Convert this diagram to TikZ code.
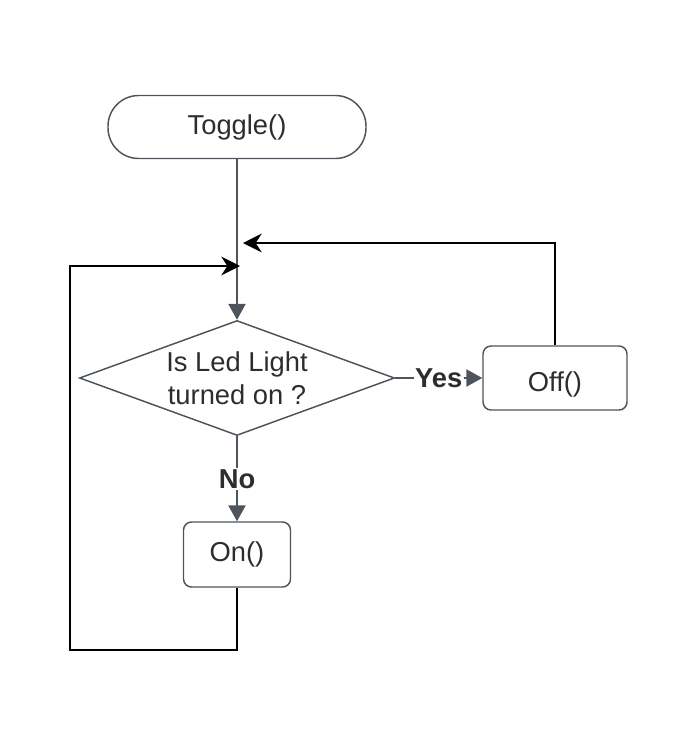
\documentclass[tikz,border=0pt]{standalone}
\usepackage{fontspec}
\setmainfont{Liberation Sans}
\usetikzlibrary{shapes.geometric,arrows.meta}
\definecolor{linegray}{RGB}{78,84,92}
\definecolor{textgray}{RGB}{45,45,45}

\begin{document}
\begin{tikzpicture}[x=0.75pt,y=0.75pt,yscale=-1,
  font=\fontsize{20.5}{25}\selectfont, text=textgray,
  startbox/.style={draw=linegray,line width=1.1pt,rounded corners=23pt,minimum width=193.5pt,minimum height=47.25pt,inner sep=0pt},
  decisionbox/.style={draw=linegray,line width=1.1pt,diamond,aspect=2.74,inner sep=0pt,minimum width=236.25pt,minimum height=86.25pt,align=center},
  actionbox/.style={draw=linegray,line width=1.1pt,rounded corners=6pt,inner sep=0pt},
  flow/.style={draw=linegray,line width=1.1pt,-{Triangle[width=13pt,length=12pt]}},
  loopline/.style={draw=black,line width=1.5pt,-{Stealth[width=14pt,length=14pt,inset=4.5pt]}},
  lbl/.style={fill=white,inner sep=1pt,font=\fontsize{20.5}{25}\selectfont\bfseries}]
\useasboundingbox (0,0) rectangle (684,732);

%Shape: Terminal
\node [startbox] (toggle) at (237,127) {Toggle()};
%Shape: Diamond
\node [decisionbox] (decision) at (237,378) {Is Led Light\\turned on ?};
%Shape: Rounded Rect
\node [actionbox,minimum width=108pt,minimum height=48pt,text height=24pt,text depth=4pt] (off) at (555,378) {Off()};
%Shape: Rounded Rect
\node [actionbox,minimum width=80.25pt,minimum height=48.75pt] (on) at (237,554.5) {On()};

%Straight Lines
\draw [flow] (toggle) -- (decision);
\draw [flow] (decision) -- node [lbl] {Yes} (off);
\draw [flow] (decision) -- node [lbl] {No} (on);

%Loop Lines
\coordinate (offin) at (243,243);
\coordinate (onin) at (240,266);
\draw [loopline] (off.north) |- (offin);
\draw [loopline] (on.south) |- (70,650) |- (onin);

\end{tikzpicture}
\end{document}
